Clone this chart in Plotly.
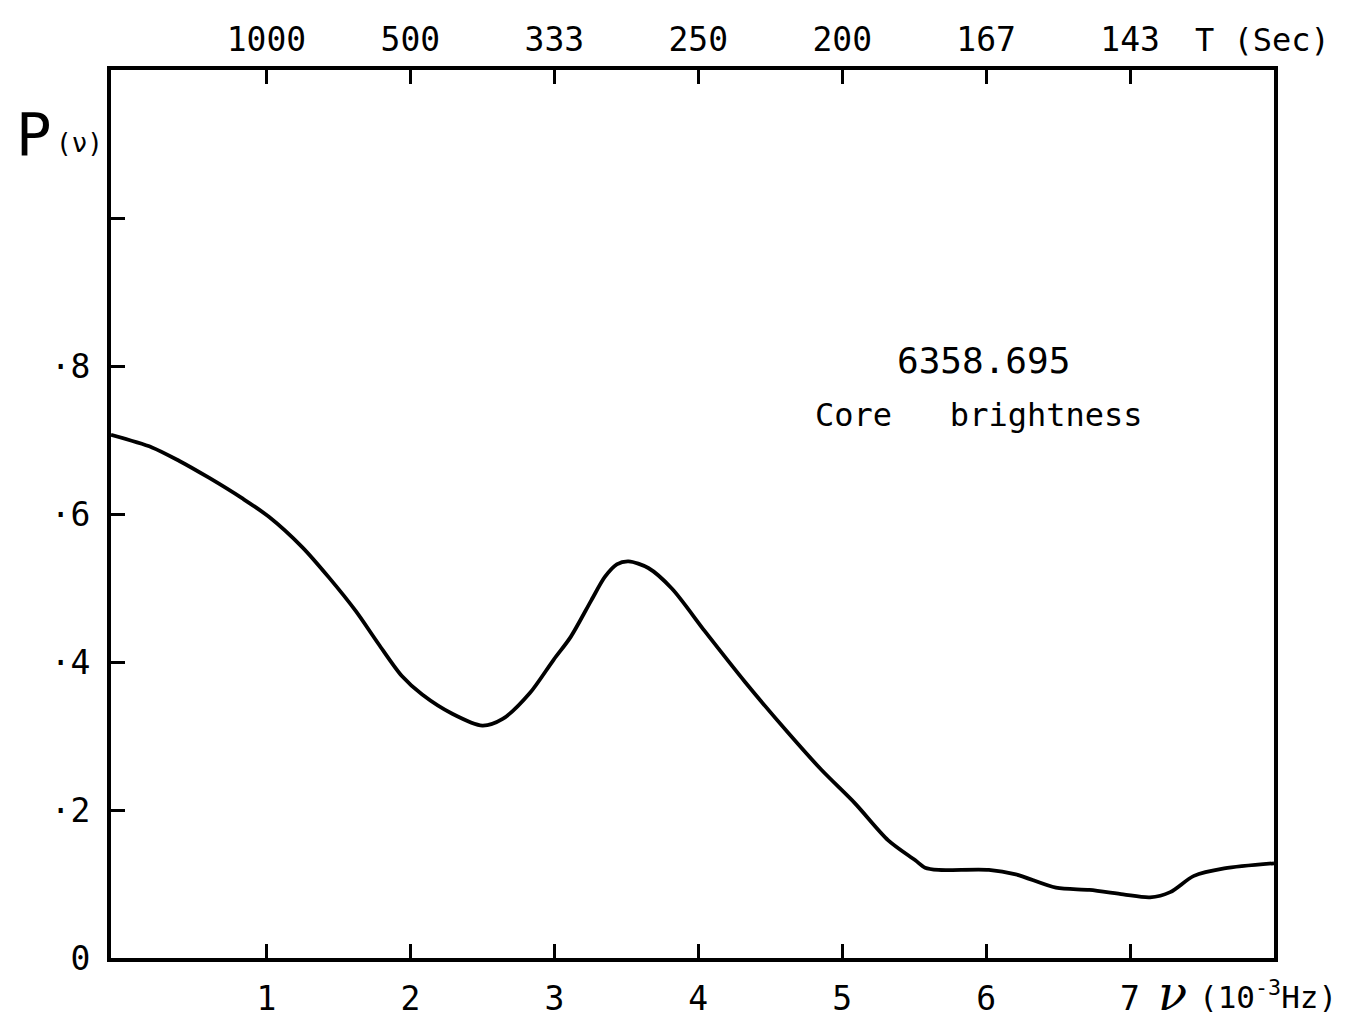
import plotly.graph_objects as go

# frequency (10^-3 Hz) and power
nu = [-0.08, 0.205, 0.392, 0.600, 0.833, 1.019, 1.250, 1.435, 1.620, 1.780,
      1.941, 2.082, 2.291, 2.500, 2.641, 2.830, 2.995, 3.114, 3.256, 3.351,
      3.434, 3.516, 3.653, 3.818, 4.048, 4.325, 4.626, 4.857, 5.089, 5.320,
      5.508, 5.576, 5.669, 6.019, 6.206, 6.485, 6.718, 6.952, 7.139, 7.279,
      7.444, 7.654, 8.0]
power = [0.707, 0.690, 0.672, 0.649, 0.621, 0.596, 0.555, 0.514, 0.469, 0.424,
         0.381, 0.356, 0.330, 0.314, 0.323, 0.358, 0.403, 0.434, 0.483, 0.515,
         0.532, 0.536, 0.527, 0.499, 0.441, 0.373, 0.304, 0.254, 0.209, 0.159,
         0.132, 0.122, 0.119, 0.119, 0.113, 0.095, 0.092, 0.086, 0.082, 0.089,
         0.111, 0.121, 0.128]

freq_ticks = [1, 2, 3, 4, 5, 6, 7]
freq_labels = ["1", "2", "3", "4", "5", "6", "7"]
period_labels = ["1000", "500", "333", "250", "200", "167", "143"]
p_ticks = [0, 0.2, 0.4, 0.6, 0.8, 1.0]
p_labels = ["0", "·2", "·4", "·6", "·8", ""]

FONT = "DejaVu Sans Mono"
x_range = [-0.08, 8.0]

fig = go.Figure()
fig.add_trace(go.Scatter(x=nu, y=power, mode="lines",
                         line=dict(color="black", width=3.8, shape="spline", smoothing=0.8),
                         showlegend=False, hoverinfo="skip"))
# invisible copy so the top (period) axis gets drawn
fig.add_trace(go.Scatter(x=nu, y=power, xaxis="x2", mode="lines",
                         line=dict(color="rgba(0,0,0,0)", width=0),
                         showlegend=False, hoverinfo="skip"))

axis_common = dict(showline=True, linecolor="black", linewidth=4, ticks="inside",
                   ticklen=14, tickwidth=2.5, tickcolor="black", showgrid=False,
                   zeroline=False, automargin=False,
                   tickfont=dict(family=FONT, size=33, color="black"))

# page body adds 8px, so the figure is 8px smaller and margins shifted
fig.update_layout(
    width=1348, height=1016,
    margin=dict(l=103, r=82, t=62, b=66, autoexpand=False),
    paper_bgcolor="white", plot_bgcolor="white",
    xaxis=dict(range=x_range, tickvals=freq_ticks, ticktext=freq_labels,
               ticklabelstandoff=8, **axis_common),
    xaxis2=dict(range=x_range, tickvals=freq_ticks, ticktext=period_labels,
                overlaying="x", side="top", ticklabelstandoff=2, **axis_common),
    yaxis=dict(range=[0, 1.2], tickvals=p_ticks, ticktext=p_labels, mirror=True,
               ticklabelstandoff=10, **axis_common),
)

def px_x(px):
    return (px - 111) / 1163

def px_y(py):
    return (958 - py) / 888

notes = [
    ("P", 33, 135, 58, "center", "DejaVu Sans"),
    ("(ν)", 54, 143, 26, "left", FONT),
    ("T (Sec)", 1262, 40, 32, "center", FONT),
    ("<i>ν</i>", 1172, 993, 48, "center", "DejaVu Serif"),
    ("(10<sup>-3</sup>Hz)", 1197, 995, 31, "left", FONT),
    ("6358.695", 983, 360, 36, "center", FONT),
    ("Core\u00a0\u00a0\u00a0brightness", 979, 415, 32, "center", FONT),
]
for text, x, y, size, anchor, fam in notes:
    fig.add_annotation(text=text, x=px_x(x), y=px_y(y), xref="paper", yref="paper",
                       showarrow=False, xanchor=anchor, yanchor="middle",
                       font=dict(family=fam, size=size, color="black"))

fig.write_html("out.html")
